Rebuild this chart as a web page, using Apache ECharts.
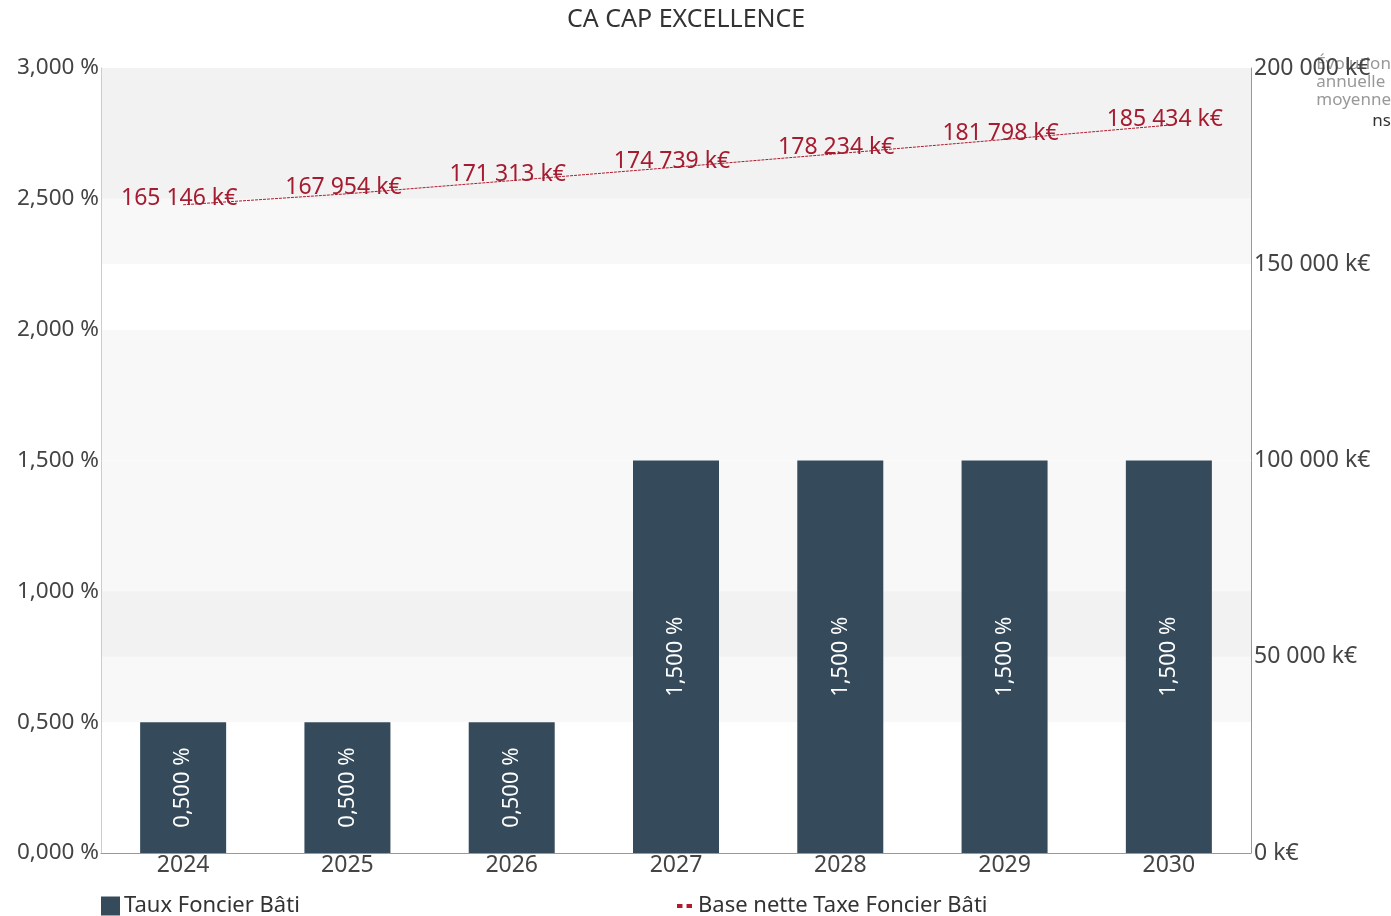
<!DOCTYPE html>
<html>
<head>
<meta charset="utf-8">
<script src="https://cdn.jsdelivr.net/npm/echarts@6/dist/echarts.min.js"></script>
<style>
html, body { margin: 0; padding: 0; background: #fff; }
#chart { width: 1391px; height: 916px; }
</style>
</head>
<body>
<div id="chart"></div>
<script>
// données
var annees = ['2024', '2025', '2026', '2027', '2028', '2029', '2030'];
var tauxFoncier = [0.5, 0.5, 0.5, 1.5, 1.5, 1.5, 1.5];
var baseNette = [165146, 167954, 171313, 174739, 178234, 181798, 185434];

var police = '"Noto Sans", sans-serif';

function fmtTaux(v) {
	return v.toFixed(3).replace('.', ',') + ' %';
}
function fmtKe(v) {
	return String(Math.round(v)).replace(/\B(?=(\d{3})+(?!\d))/g, ' ') + ' k€';
}

var chart = echarts.init(document.getElementById('chart'));
chart.setOption({
	animation: false,
	title: {
		text: 'CA CAP EXCELLENCE',
		left: 562,
		top: 2,
		textStyle: { fontFamily: police, fontSize: 25, fontWeight: 'normal', color: '#333' }
	},
	graphic: [
		{
			type: 'text', right: 0, top: 55,
			style: { text: 'Évolution\nannuelle\nmoyenne', fill: '#999', font: '17px ' + police, align: 'right', lineHeight: 18 }
		},
		{
			type: 'text', right: 0, top: 113,
			style: { text: 'ns', fill: '#333', font: '17px ' + police, align: 'right' }
		}
	],
	legend: [
		{
			data: [{ name: 'Taux Foncier Bâti', icon: 'rect' }],
			left: 101, top: 895, padding: 0,
			itemWidth: 19, itemHeight: 19, itemGap: 5,
			textStyle: { fontFamily: police, fontSize: 22, color: '#333', padding: [0, 0, 0, -1] }
		},
		{
			data: [{ name: 'Base nette Taxe Foncier Bâti', icon: 'path://M0,0 L4,0 L4,3 L0,3 Z M7,0 L11,0 L11,3 L7,3 Z' }],
			left: 677, top: 895, padding: 0,
			itemWidth: 15, itemHeight: 5,
			itemStyle: { color: '#b01c2e' },
			textStyle: { fontFamily: police, fontSize: 22, color: '#333', padding: [0, 0, 0, 1] }
		}
	],
	grid: { left: 101, right: 140, top: 68, bottom: 63 },
	xAxis: {
		type: 'category',
		data: annees,
		axisLine: { lineStyle: { color: '#999' } },
		axisTick: { show: false },
		axisLabel: { fontFamily: police, fontSize: 23, color: '#444', margin: 1 }
	},
	yAxis: [
		{
			type: 'value', min: 0, max: 3, interval: 0.5,
			axisLine: { show: true, lineStyle: { color: '#ccc' } },
			axisTick: { show: false },
			splitLine: { show: false },
			splitArea: { show: true, areaStyle: { color: ['rgba(0,0,0,0)', 'rgba(0,0,0,0.026)'] } },
			axisLabel: { fontFamily: police, fontSize: 22.5, color: '#444', margin: 2, formatter: fmtTaux }
		},
		{
			type: 'value', min: 0, max: 200000, interval: 50000,
			axisLine: { show: true, lineStyle: { color: '#999' } },
			axisTick: { show: false },
			splitLine: { show: false },
			splitArea: { show: true, areaStyle: { color: ['rgba(0,0,0,0)', 'rgba(0,0,0,0.026)'] } },
			axisLabel: { fontFamily: police, fontSize: 23, color: '#444', margin: 3, formatter: fmtKe }
		}
	],
	series: [
		{
			name: 'Taux Foncier Bâti',
			type: 'bar',
			yAxisIndex: 0,
			data: tauxFoncier,
			barWidth: 86,
			itemStyle: { color: '#354a5a' },
			label: {
				show: true, position: 'inside', rotate: 90,
				color: '#fff', fontFamily: police, fontSize: 22,
				formatter: function (p) { return fmtTaux(p.value); }
			}
		},
		{
			name: 'Base nette Taxe Foncier Bâti',
			type: 'line',
			yAxisIndex: 1,
			data: baseNette,
			symbol: 'circle',
			symbolSize: 1,
			showSymbol: true,
			lineStyle: { color: '#b01c2e', width: 1, type: [3, 1] },
			itemStyle: { color: 'rgba(0,0,0,0)' },
			label: {
				show: true, position: 'top', distance: -6, offset: [-4, 0],
				color: '#a51c30', fontFamily: police, fontSize: 23,
				formatter: function (p) { return fmtKe(p.value); }
			}
		}
	]
});
</script>
</body>
</html>
